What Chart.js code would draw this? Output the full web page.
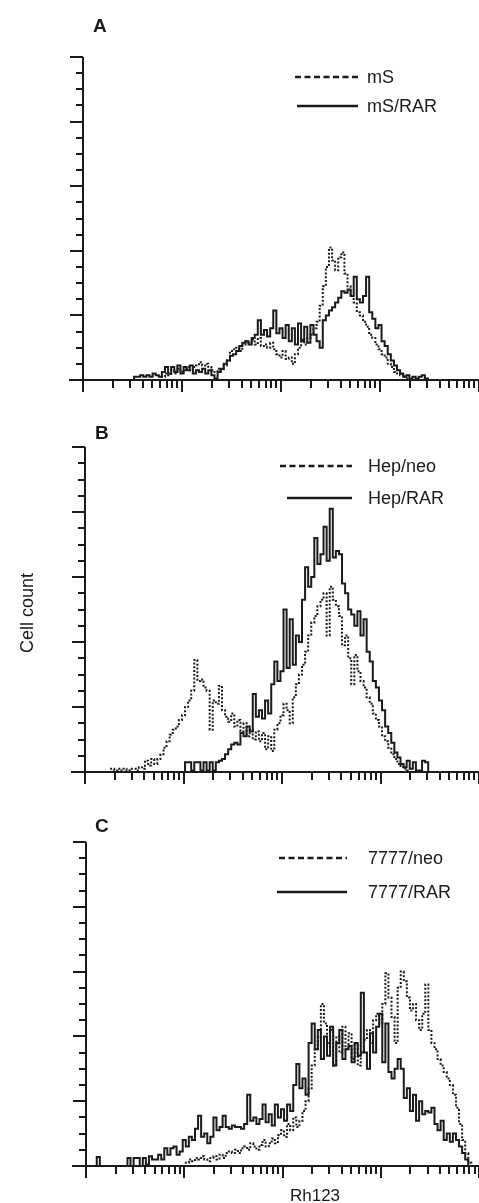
<!DOCTYPE html>
<html>
<head>
<meta charset="utf-8">
<script src="https://cdn.jsdelivr.net/npm/chart.js@4.4.1/dist/chart.umd.min.js"></script>
<style>
  html, body { margin: 0; padding: 0; background: #fff; }
  body { width: 479px; height: 1203px; position: relative; overflow: hidden; }
  canvas { position: absolute; left: 0; }
</style>
</head>
<body>
<canvas id="panelA" width="479" height="400" style="top:0px"></canvas>
<canvas id="panelB" width="479" height="400" style="top:400px"></canvas>
<canvas id="panelC" width="479" height="403" style="top:800px"></canvas>
<script>
// --- DATOS: canales del histograma (32 por década, 4 décadas de Rh123) ---
const CANALES_POR_DECADA = 32;

// Panel A
const mS_inicio = 25;
const mS_valores = [
  0, 1, 2, 1.5, 3, 2, 3.5, 2.5, 3, 4, 3,
  4, 4.5, 5.5, 4.5, 5, 4, 3, 2.5, 3.5, 3,
  4.5, 6, 9, 9.5, 10, 9, 11, 12, 11.5, 12.5,
  11, 13, 10.5, 11, 10, 11.5, 9.5, 8, 7, 9,
  6.5, 7, 5, 8, 10, 12.5, 11, 13, 14, 16,
  18, 23, 29, 35, 41, 37, 34, 38, 39.5, 33,
  29, 26, 24, 21, 20, 18, 16.5, 14, 13, 11,
  9.5, 8, 7, 5, 4, 2.5, 2, 1.5, 1, 0.5, 0
];
const mSRAR_inicio = 16;
const mSRAR_valores = [
  0, 1, 1, 1.5, 1, 1.5, 1, 2, 1.5, 1,
  2.5, 4, 2, 4, 2.5, 4.5, 2, 4, 3, 4.5,
  2, 3, 2.5, 3.5, 2, 3, 1.5, 0.5, 2.5, 3.5,
  5, 6, 7.5, 8, 9, 10.5, 11.5, 12, 11, 13,
  14, 18.5, 14, 15.5, 13.5, 16, 21.5, 14.5, 16, 13,
  17, 12, 16, 11, 17.5, 12, 16.5, 11.5, 17, 14,
  12, 10, 18.5, 20, 21.5, 22.5, 24, 25.5, 27.5, 27,
  28, 26, 32, 25, 24, 26, 32, 21, 19, 16,
  17, 12, 10.5, 8, 6, 4.5, 3, 2, 1, 1.5,
  0.5, 1, 0.5, 1, 1.5, 0.5, 0
];

// Panel B
const hepNeo_inicio = 8;
const hepNeo_valores = [
  0,
  1, 0.5, 1, 0.5, 1, 0.5, 1, 1, 0.5, 1.5,
  1, 3.5, 2, 4, 2.5, 4, 5.5, 7.5, 9.5, 11.5,
  13, 14, 16, 17.5, 20, 22, 25, 34.5, 28, 28.5,
  26, 25, 13, 22, 21, 26.5, 19, 17, 15.5, 18,
  14, 16, 12.5, 15, 11, 13, 10, 12.5, 9.5, 12,
  7, 11, 6.5, 13, 15, 17.5, 21, 19, 15, 23,
  27, 30, 33, 37, 42, 46, 48, 51, 53, 55,
  42, 57, 53, 51, 48, 39, 42, 35, 27, 36,
  31, 28, 26, 23, 21, 18, 16, 14, 11, 9.5,
  7.5, 5.5, 4, 2.5, 1.5, 1, 0.5, 0
];
const hepRAR_inicio = 32;
const hepRAR_valores = [
  0, 3, 3, 0.5, 3, 3, 0.5, 3, 0.5, 3,
  0.5, 3, 3.5, 4, 5.5, 7, 8.5, 9, 8.5, 12,
  11, 14, 12.5, 24, 17, 19, 16.5, 22, 18, 27,
  34, 28, 31, 50, 32, 47, 33, 42, 40, 53,
  63, 57, 60, 72, 64, 67, 75.5, 65, 81, 66,
  68, 67, 58, 55, 50, 48.5, 45, 49.5, 42, 47,
  37, 34, 28, 26, 22, 19, 14, 12, 9, 6,
  4.5, 2.5, 1.5, 3.5, 1, 3, 0.5, 0.5, 3.5, 3, 0
];

// Panel C
const neo7777_inicio = 32;
const neo7777_valores = [
  0,
  1, 2, 1.5, 2.5, 2, 3, 2, 1.5, 2.5, 3,
  2, 3.5, 2.5, 4, 4.5, 4, 5, 4, 5.5, 6,
  5, 7, 6, 5, 6.5, 8, 6, 7, 8.5, 7,
  9.5, 11, 9, 13, 11, 15, 12, 14, 17, 20,
  24, 31, 36, 40, 50, 44, 38, 42, 31, 40,
  35, 43, 36, 41, 33, 38, 31, 35, 39, 42,
  38, 45, 47, 44, 50, 59.5, 52, 46, 38, 55,
  60, 57, 52, 48, 50, 45, 42, 47, 56, 42,
  38, 36, 33, 31, 29, 27, 25, 22, 18, 13,
  8, 4, 1, 0
];
const rar7777_inicio = 3;
const rar7777_valores = [
  0, 2.8, 0, 0, 0, 0, 0, 0, 0, 0, 0,
  2.5, 0, 2.5, 2.5, 0, 2.5, 0.5, 3, 2, 2,
  3.5, 2, 5.5, 3.5, 5.5, 6, 3.5, 4.5, 8, 6,
  9, 8, 11.5, 15.5, 9, 10, 7, 9, 15, 11,
  12, 15.5, 12, 11.5, 12.5, 12, 12, 11.5, 13, 22,
  14, 15, 13, 14.5, 19, 13.5, 16, 12.5, 19, 15,
  17.5, 14, 19, 17, 25, 31.5, 24, 27, 22, 38,
  44, 36, 42, 33, 40, 34, 43, 31, 38, 42,
  33, 36, 37, 32, 38, 34, 53.5, 35, 30, 41,
  35, 43, 47, 32, 44, 29, 27, 30, 33, 30,
  21, 24, 17, 22, 14, 20, 16, 17, 16.5, 18,
  13, 11, 14, 8, 10, 7.5, 10, 8, 6, 4, 2, 0
];

// Marcas de los ejes
const Y_TICKS_MAYOR = [0, 20, 40, 60, 80, 100];
const Y_TICKS_MENOR = [5, 10, 15, 25, 30, 35, 45, 50, 55, 65, 70, 75, 85, 90, 95];
const X_TICKS_MAYOR = [1, 10, 100, 1000, 10000];
const X_TICKS_MENOR = [2, 3, 4, 5, 6, 7, 8, 9,
  20, 30, 40, 50, 60, 70, 80, 90,
  200, 300, 400, 500, 600, 700, 800, 900,
  2000, 3000, 4000, 5000, 6000, 7000, 8000, 9000];

// --- AUXILIAR: canal -> valor de Rh123 ---
function aPuntos(inicio, valores) {
  return valores.map((v, i) => ({ x: Math.pow(10, (inicio + i) / CANALES_POR_DECADA), y: v }));
}

const TINTA = "#1a1a1a";
const FUENTE = "'Liberation Sans', Arial, Helvetica, sans-serif";

// --- PLUGIN: ejes, marcas, letra del panel y leyenda ---
const decoracion = {
  id: "decoracion",
  afterDraw(chart, args, opts) {
    const { ctx, chartArea: a } = chart;
    const x = chart.scales.x, y = chart.scales.y;
    ctx.save();
    ctx.strokeStyle = TINTA;
    ctx.fillStyle = TINTA;
    ctx.lineWidth = 2;
    ctx.setLineDash([]);

    ctx.beginPath();
    ctx.moveTo(a.left, a.top);
    ctx.lineTo(a.left, a.bottom);
    ctx.moveTo(a.left - 14, a.bottom);
    ctx.lineTo(a.right, a.bottom);

    Y_TICKS_MAYOR.forEach(v => {
      const py = Math.round(y.getPixelForValue(v));
      ctx.moveTo(a.left - 13, py); ctx.lineTo(a.left, py);
    });
    Y_TICKS_MENOR.forEach(v => {
      const py = Math.round(y.getPixelForValue(v));
      ctx.moveTo(a.left - 7, py); ctx.lineTo(a.left, py);
    });
    X_TICKS_MAYOR.forEach(v => {
      const px = Math.round(x.getPixelForValue(v));
      ctx.moveTo(px, a.bottom); ctx.lineTo(px, a.bottom + 12);
    });
    X_TICKS_MENOR.forEach(v => {
      const px = Math.round(x.getPixelForValue(v));
      ctx.moveTo(px, a.bottom); ctx.lineTo(px, a.bottom + 8);
    });
    ctx.stroke();

    // letra
    ctx.font = "bold 19px " + FUENTE;
    ctx.textBaseline = "alphabetic";
    ctx.fillText(opts.letra.texto, opts.letra.x, opts.letra.y);

    // leyenda
    ctx.font = "18px " + FUENTE;
    ctx.textBaseline = "middle";
    opts.leyenda.forEach((item, i) => {
      ctx.beginPath();
      ctx.setLineDash(item.guiones ? [6, 3.5] : []);
      ctx.lineWidth = 2.5;
      ctx.moveTo(item.x1, item.y);
      ctx.lineTo(item.x2, item.y);
      ctx.stroke();
      ctx.fillText(chart.data.datasets[i].label, opts.textoX, item.y + 1);
    });
    ctx.setLineDash([]);

    if (opts.tituloY) {
      ctx.save();
      ctx.translate(opts.tituloY.x, opts.tituloY.y);
      ctx.rotate(-Math.PI / 2);
      ctx.textAlign = "center";
      ctx.textBaseline = "middle";
      ctx.font = "18px " + FUENTE;
      ctx.fillText("Cell count", 0, 0);
      ctx.restore();
    }
    if (opts.tituloX) {
      ctx.textAlign = "center";
      ctx.textBaseline = "alphabetic";
      ctx.font = "17px " + FUENTE;
      ctx.fillText("Rh123", opts.tituloX.x, opts.tituloX.y);
    }
    ctx.restore();
  }
};

function crearPanel(idCanvas, etiquetas, series, relleno, deco) {
  const ctx = document.getElementById(idCanvas).getContext("2d");
  return new Chart(ctx, {
    type: "line",
    data: {
      datasets: [
        {
          label: etiquetas[0],
          data: aPuntos(series[0][0], series[0][1]),
          borderColor: TINTA,
          borderWidth: 2,
          borderDash: [2, 1.8],
          stepped: "middle",
          pointRadius: 0,
          fill: false,
        },
        {
          label: etiquetas[1],
          data: aPuntos(series[1][0], series[1][1]),
          borderColor: TINTA,
          borderWidth: 2,
          stepped: "middle",
          pointRadius: 0,
          fill: false,
        },
      ],
    },
    options: {
      responsive: false,
      animation: false,
      devicePixelRatio: 1,
      layout: { padding: relleno },
      scales: {
        x: { type: "logarithmic", min: 1, max: 10000, display: false },
        y: { type: "linear", min: 0, max: 100, display: false },
      },
      plugins: {
        legend: { display: false },
        tooltip: { enabled: false },
        decoracion: deco,
      },
    },
    plugins: [decoracion],
  });
}

crearPanel("panelA", ["mS", "mS/RAR"],
  [[mS_inicio, mS_valores], [mSRAR_inicio, mSRAR_valores]],
  { left: 83, right: 0, top: 57, bottom: 20 },
  {
    letra: { texto: "A", x: 93, y: 32 },
    textoX: 367,
    leyenda: [
      { guiones: true, x1: 295, x2: 358, y: 77 },
      { guiones: false, x1: 297, x2: 358, y: 106 },
    ],
  });

crearPanel("panelB", ["Hep/neo", "Hep/RAR"],
  [[hepNeo_inicio, hepNeo_valores], [hepRAR_inicio, hepRAR_valores]],
  { left: 85, right: 0, top: 47, bottom: 28 },
  {
    letra: { texto: "B", x: 95, y: 39 },
    textoX: 368,
    leyenda: [
      { guiones: true, x1: 280, x2: 352, y: 66 },
      { guiones: false, x1: 287, x2: 352, y: 98 },
    ],
    tituloY: { x: 28, y: 213 },
  });

crearPanel("panelC", ["7777/neo", "7777/RAR"],
  [[neo7777_inicio, neo7777_valores], [rar7777_inicio, rar7777_valores]],
  { left: 86, right: 0, top: 42, bottom: 37 },
  {
    letra: { texto: "C", x: 95, y: 32 },
    textoX: 368,
    leyenda: [
      { guiones: true, x1: 279, x2: 347, y: 58 },
      { guiones: false, x1: 277, x2: 347, y: 92 },
    ],
    tituloX: { x: 315, y: 1201 - 800 },
  });
</script>
</body>
</html>
